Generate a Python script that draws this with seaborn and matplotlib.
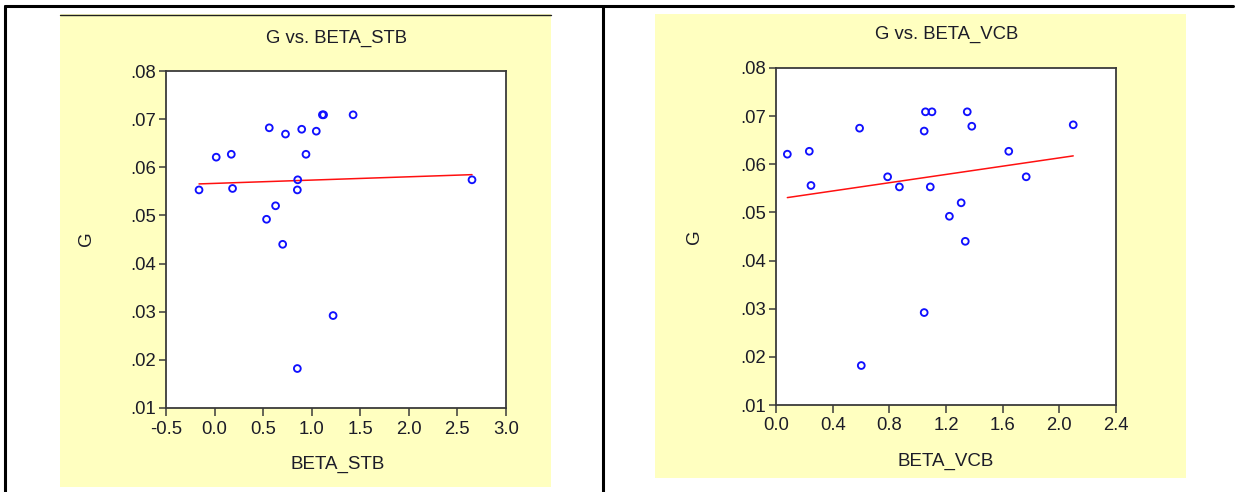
import numpy as np
import pandas as pd
import matplotlib
matplotlib.use('Agg')
import matplotlib.pyplot as plt
from matplotlib.patches import Rectangle
from matplotlib.lines import Line2D
from matplotlib.ticker import FuncFormatter
import seaborn as sns

# G against the two betas (one row per observation)
g_vals = [0.0182, 0.0292, 0.0440, 0.0492, 0.0520, 0.0553, 0.0553, 0.0556, 0.0574, 0.0574,
          0.0621, 0.0627, 0.0627, 0.0669, 0.0675, 0.0679, 0.0682, 0.0709, 0.0709, 0.0709]
beta_stb = [0.852, 1.220, 0.701, 0.535, 0.628, -0.160, 0.852, 0.185, 0.856, 2.650,
            0.017, 0.172, 0.941, 0.730, 1.047, 0.897, 0.563, 1.110, 1.122, 1.426]
beta_vcb = [0.602, 1.046, 1.336, 1.224, 1.307, 0.871, 1.089, 0.247, 0.788, 1.766,
            0.080, 0.235, 1.643, 1.046, 0.590, 1.382, 2.098, 1.055, 1.101, 1.350]

y_ticks = [0.01, 0.02, 0.03, 0.04, 0.05, 0.06, 0.07, 0.08]
stb_ticks = [-0.5, 0.0, 0.5, 1.0, 1.5, 2.0, 2.5, 3.0]
vcb_ticks = [0.0, 0.4, 0.8, 1.2, 1.6, 2.0, 2.4]

df = pd.DataFrame({'G': g_vals, 'BETA_STB': beta_stb, 'BETA_VCB': beta_vcb})

sns.set_style('white')
plt.rcParams['font.family'] = ['Liberation Sans', 'DejaVu Sans']

W, H = 1236, 492
YELLOW = '#ffffc0'
TXT = '#1c1c28'

fig = plt.figure(figsize=(W / 100, H / 100), dpi=100, facecolor='white')


def fx(px):
    return px / W


def fy(py):
    return 1 - py / H


# table frame lines
fig.add_artist(Line2D([fx(5), fx(1233)], [fy(6), fy(6)], color='black', lw=2.2))
fig.add_artist(Line2D([fx(5), fx(5)], [0, fy(6)], color='black', lw=2.2))
fig.add_artist(Line2D([fx(603), fx(603)], [0, fy(6)], color='black', lw=2.2))

paneles = [
    # (var, ticks, yellow box px, axes box px, title xy, xlabel xy, ylabel xy)
    ('BETA_STB', stb_ticks, (60, 14, 551, 487), (166, 71, 506, 408),
     (336, 38), (338, 464), (86, 239)),
    ('BETA_VCB', vcb_ticks, (655, 14, 1186, 478), (776, 68, 1116, 405),
     (947, 34), (946, 461), (694, 237)),
]

for var, xt, (bx0, by0, bx1, by1), (ax0, ay0, ax1, ay1), tpos, xpos, ypos in paneles:
    fig.patches.append(Rectangle((fx(bx0), fy(by1)), fx(bx1 - bx0), (by1 - by0) / H,
                                 transform=fig.transFigure, facecolor=YELLOW,
                                 edgecolor='none', zorder=-5))
    if var == 'BETA_STB':
        fig.add_artist(Line2D([fx(bx0), fx(bx1)], [fy(by0 + 0.5), fy(by0 + 0.5)],
                              color='#202020', lw=1.0))

    ax = fig.add_axes([fx(ax0), fy(ay1), fx(ax1 - ax0), (ay1 - ay0) / H])
    ax.set_zorder(2)
    ax.set_facecolor('white')
    sns.regplot(data=df, x=var, y='G', ax=ax, ci=None, truncate=True,
                scatter_kws={'facecolors': 'none', 'edgecolors': '#1010ff', 's': 24,
                             'linewidths': 1.35, 'alpha': 1, 'zorder': 3},
                line_kws={'color': '#ff1010', 'lw': 1.1, 'zorder': 2})

    ax.set_xlim(xt[0], xt[-1])
    ax.set_ylim(y_ticks[0], y_ticks[-1])
    ax.set_xticks(xt)
    ax.set_yticks(y_ticks)
    ax.xaxis.set_major_formatter(FuncFormatter(lambda v, p: f'{v:.1f}'))
    ax.yaxis.set_major_formatter(FuncFormatter(lambda v, p: f'{v:.2f}'.lstrip('0')))
    ax.set_xlabel('')
    ax.set_ylabel('')
    for s in ax.spines.values():
        s.set_visible(True)
        s.set_color('#3a3a3a')
        s.set_linewidth(1.3)
    ax.tick_params(axis='both', direction='out', colors='#3a3a3a', labelcolor=TXT,
                   labelsize=13.3, width=1.1)
    ax.tick_params(axis='x', length=6, pad=3, bottom=True)
    ax.tick_params(axis='y', length=5, pad=2, left=True)

    fig.text(fx(tpos[0]), fy(tpos[1]), f'G vs. {var}', ha='center', va='center',
             fontsize=13.3, color=TXT)
    fig.text(fx(xpos[0]), fy(xpos[1]), var, ha='center', va='center',
             fontsize=13.5, color=TXT)
    fig.text(fx(ypos[0]), fy(ypos[1]), 'G', ha='center', va='center',
             fontsize=13.5, color=TXT, rotation=90)

fig.savefig('out.png', dpi=100, facecolor='white')
plt.close(fig)
